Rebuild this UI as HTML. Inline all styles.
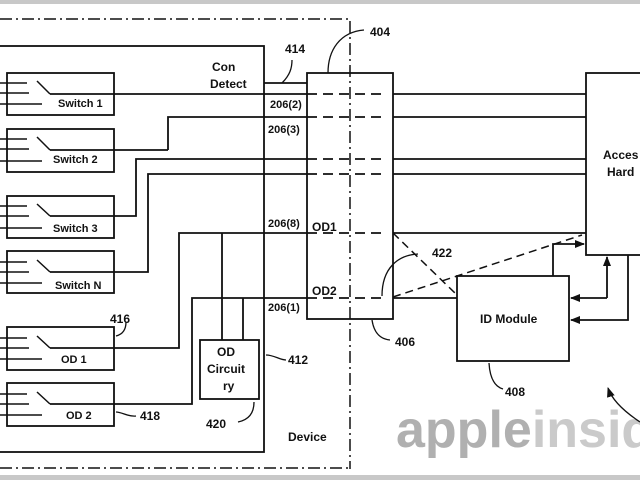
<!DOCTYPE html>
<html><head><meta charset="utf-8"><style>
html,body{margin:0;padding:0;background:#fff;}
svg{display:block;font-family:"Liberation Sans",sans-serif;font-weight:bold;}
</style></head><body>
<svg width="640" height="480" viewBox="0 0 640 480" xmlns="http://www.w3.org/2000/svg">
<defs><marker id="ah" markerWidth="10" markerHeight="8" refX="9" refY="4" orient="auto" markerUnits="userSpaceOnUse"><path d="M0,0 L10,4 L0,8 z" fill="#111"/></marker></defs>
<rect x="0" y="0" width="640" height="4" fill="#c8c8c8"/>
<rect x="0" y="475" width="640" height="5" fill="#c8c8c8"/>
<!-- watermark -->
<text x="396" y="447" font-size="52" fill="#b0b0b0" font-weight="bold">apple<tspan fill="#cacaca">insid</tspan></text>
<g stroke="#111" stroke-width="1.8" fill="none">
<!-- dash-dot boundary -->
<path d="M0,19 H350 V469 M0,468 H350" stroke-dasharray="12,4,2,4" stroke-width="1.5"/>
<!-- device box -->
<rect x="-2" y="46" width="266" height="406"/>
<!-- connector -->
<rect x="307" y="73" width="86" height="246"/>
<!-- access hardware -->
<rect x="586" y="73" width="60" height="182"/>
<!-- ID module -->
<rect x="457" y="276" width="112" height="85"/>
<!-- OD circuit -->
<rect x="200" y="340" width="59" height="59"/>
<!-- switch boxes -->
<rect x="7" y="73" width="107" height="42"/>
<rect x="7" y="129" width="107" height="43"/>
<rect x="7" y="196" width="107" height="42"/>
<rect x="7" y="251" width="107" height="42"/>
<rect x="7" y="327" width="107" height="43"/>
<rect x="7" y="383" width="107" height="43"/>
<!-- switch internals -->
<g stroke-width="1.5">
<path d="M0,83H27M0,93H29M0,104H42M37,81L50,94"/>
<path d="M0,139H27M0,149H29M0,161H42M37,137L50,150"/>
<path d="M0,206H27M0,216H29M0,228H42M37,204L50,216"/>
<path d="M0,262H27M0,272H29M0,283H42M37,260L50,272"/>
<path d="M0,338H27M0,348H29M0,359H42M37,336L50,348"/>
<path d="M0,394H27M0,404H29M0,415H42M37,392L50,404"/>
</g>
<!-- signal lines -->
<path d="M50,94H307 M168,150H50 M168,150V117H307 M50,216H136V159H307 M50,272H148V174H307 M50,348H179V233H307 M50,404H192V298H307 M222,340V233 M243,340V298"/>
<path d="M307,94H387 M307,117H387 M307,159H387 M307,174H387 M307,233H387 M307,298H387" stroke-dasharray="10,6"/>
<path d="M393,94H586 M393,117H586 M393,159H586 M393,174H586 M393,233H586 M393,298H457"/>
<path d="M393,233L457,295 M393,297L582,235" stroke-dasharray="8,5" stroke-width="1.5"/>
<path d="M264,83H307"/>
<!-- arrows -->
<path d="M553,276V244H584" marker-end="url(#ah)"/>
<path d="M607,298V257" marker-end="url(#ah)"/>
<path d="M607,298H571" marker-end="url(#ah)"/>
<path d="M628,255V320H571" marker-end="url(#ah)"/>
<!-- leader curves -->
<g stroke-width="1.3">
<path d="M328,73 C328,50 340,32 364,30"/>
<path d="M282,83 C290,75 292,68 292,60"/>
<path d="M116,336 C124,334 126,328 126,322"/>
<path d="M116,412 C122,412 128,417 136,416"/>
<path d="M266,355 C274,355 280,360 286,360"/>
<path d="M254,402 C254,414 248,420 238,422"/>
<path d="M382,296 C382,268 398,255 418,254"/>
<path d="M372,320 C374,333 380,339 390,340"/>
<path d="M489,363 C490,380 496,387 503,389"/>
<path d="M640,422 C625,412 612,400 608,388" marker-end="url(#ah)"/>
</g>
</g>
<g fill="#111" font-size="12">
<text x="212" y="71">Con</text>
<text x="210" y="88">Detect</text>
<text x="285" y="53">414</text>
<text x="370" y="36">404</text>
<text x="270" y="108" font-size="11">206(2)</text>
<text x="268" y="133" font-size="11">206(3)</text>
<text x="268" y="227" font-size="11">206(8)</text>
<text x="268" y="311" font-size="11">206(1)</text>
<text x="312" y="231">OD1</text>
<text x="312" y="295">OD2</text>
<text x="432" y="257">422</text>
<text x="395" y="346">406</text>
<text x="505" y="396">408</text>
<text x="288" y="364">412</text>
<text x="110" y="323">416</text>
<text x="140" y="420">418</text>
<text x="206" y="428">420</text>
<text x="288" y="441">Device</text>
<text x="603" y="159">Acces</text>
<text x="607" y="176">Hard</text>
<text x="480" y="323">ID Module</text>
<text x="217" y="356">OD</text>
<text x="207" y="373">Circuit</text>
<text x="223" y="390">ry</text>
<g font-size="11">
<text x="58" y="107">Switch 1</text>
<text x="53" y="163">Switch 2</text>
<text x="53" y="232">Switch 3</text>
<text x="55" y="289">Switch N</text>
<text x="61" y="363">OD 1</text>
<text x="66" y="419">OD 2</text>
</g>
</g>
</svg>
</body></html>
